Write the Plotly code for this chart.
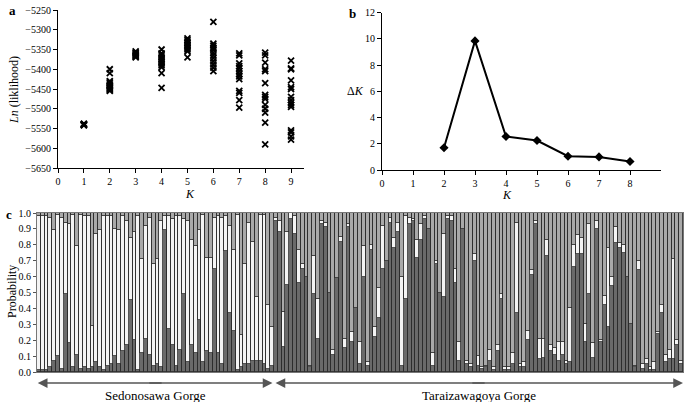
import plotly.graph_objects as go

# ---------------- Panel a: Ln likelihood per K ----------------
k_values = [1, 2, 3, 4, 5, 6, 7, 8, 9]
ln_k1 = [-5538, -5539, -5540, -5540, -5541, -5542]
ln_k2 = [-5400, -5410, -5430, -5433, -5436, -5440, -5442, -5445, -5448, -5450, -5452, -5455]
ln_k3 = [-5355, -5358, -5360, -5362, -5364, -5366, -5368, -5370]
ln_k4 = [-5350, -5360, -5365, -5370, -5374, -5378, -5382, -5386, -5390, -5395, -5410, -5447]
ln_k5 = [-5322, -5326, -5330, -5334, -5338, -5342, -5346, -5350, -5355, -5370]
ln_k6 = [-5280, -5335, -5340, -5345, -5350, -5358, -5365, -5372, -5380, -5388, -5396, -5405]
ln_k7 = [-5360, -5365, -5385, -5392, -5398, -5405, -5412, -5418, -5425, -5455, -5460, -5478, -5497]
ln_k8 = [-5358, -5365, -5383, -5400, -5405, -5435, -5465, -5470, -5475, -5490, -5500, -5510, -5535, -5590]
ln_k9 = [-5378, -5398, -5400, -5428, -5445, -5450, -5470, -5478, -5485, -5490, -5495, -5555, -5560, -5570, -5578]
ln_runs = [ln_k1, ln_k2, ln_k3, ln_k4, ln_k5, ln_k6, ln_k7, ln_k8, ln_k9]

# ---------------- Panel b: Delta K ----------------
dk_k = [2, 3, 4, 5, 6, 7, 8]
dk_vals = [1.7, 9.85, 2.55, 2.25, 1.05, 1.0, 0.65]

# ---------------- Panel c: membership probabilities ----------------
# cumulative tops: dark cluster (bottom), then white cluster top
sed_dark = [0.01, 0.01, 0.015, 0.03, 0.07, 0.10, 0.02, 0.49, 0.18, 0.03, 0.11, 0.02, 0.03, 0.02, 0.03,
            0.06, 0.03, 0.01, 0.04, 0.05, 0.10, 0.05, 0.13, 0.17, 0.45, 0.20, 0.01, 0.12, 0.21, 0.11,
            0.04, 0.05, 0.03, 0.89, 0.27, 0.17, 0.04, 0.14, 0.49, 0.06, 0.17, 0.12, 0.33, 0.06, 0.13,
            0.12, 0.65, 0.12, 0.05, 0.76, 0.37, 0.26, 0.01, 0.03, 0.05, 0.05, 0.07, 0.07, 0.07, 0.05,
            0.02, 0.04]
sed_white_top = [0.98, 0.98, 0.98, 0.97, 0.89, 0.99, 0.97, 0.94, 0.93, 0.99, 0.79, 0.99, 0.98, 0.98, 0.29,
                 0.87, 0.89, 0.98, 0.98, 0.98, 0.90, 0.89, 0.98, 0.95, 0.84, 0.88, 0.98, 0.71, 0.92, 0.97,
                 0.68, 0.71, 0.95, 0.98, 0.98, 0.96, 0.98, 0.98, 0.96, 0.95, 0.83, 0.79, 0.89, 0.99, 0.72,
                 0.72, 0.97, 0.98, 0.97, 0.98, 0.92, 0.77, 0.99, 0.23, 0.68, 0.94, 0.82, 0.47, 0.99, 0.99,
                 0.42, 0.28]
tar_dark = [0.95, 0.88, 0.16, 0.55, 0.96, 0.87, 0.56, 0.65, 0.60, 0.03, 0.49, 0.21, 0.93, 0.91, 0.50,
            0.11, 0.59, 0.82, 0.15, 0.91, 0.19, 0.40, 0.05, 0.60, 0.04, 0.77, 0.22, 0.34, 0.65, 0.70,
            0.94, 0.78, 0.88, 0.04, 0.46, 0.93, 0.95, 0.72, 0.83, 0.96, 0.90, 0.04, 0.68, 0.50, 0.47,
            0.96, 0.95, 0.56, 0.07, 0.90, 0.05, 0.03, 0.70, 0.04, 0.02, 0.03, 0.07, 0.01, 0.13, 0.46,
            0.01, 0.01, 0.05, 0.37, 0.03, 0.03, 0.20, 0.61, 0.93, 0.08, 0.09, 0.73, 0.13, 0.11, 0.07,
            0.11, 0.05, 0.06, 0.66, 0.74, 0.74, 0.19, 0.49, 0.09, 0.90, 0.19, 0.42, 0.28, 0.54, 0.81,
            0.78, 0.75, 0.60, 0.30, 0.03, 0.64, 0.02, 0.05, 0.01, 0.01, 0.24, 0.37, 0.06, 0.08, 0.08,
            0.17, 0.05]
tar_white_top = [0.97, 0.95, 0.38, 0.88, 1.00, 0.98, 0.77, 0.68, 0.60, 0.04, 0.73, 0.46, 0.95, 0.94, 0.50,
                 0.14, 0.59, 0.85, 0.21, 0.93, 0.25, 0.40, 0.19, 0.79, 0.06, 0.80, 0.28, 0.53, 0.92, 0.70,
                 0.97, 0.84, 0.94, 0.60, 0.98, 0.97, 0.96, 0.83, 0.93, 0.98, 0.90, 0.12, 0.70, 0.50, 0.87,
                 0.98, 0.98, 0.65, 0.19, 0.90, 0.07, 0.05, 0.74, 0.10, 0.03, 0.04, 0.14, 0.03, 0.17, 0.49,
                 0.03, 0.03, 0.12, 0.94, 0.05, 0.06, 0.26, 0.64, 0.95, 0.21, 0.21, 0.83, 0.17, 0.15, 0.19,
                 0.19, 0.07, 0.40, 0.80, 0.86, 0.84, 0.30, 0.93, 0.18, 0.95, 0.20, 0.48, 0.78, 0.60, 0.91,
                 0.81, 0.80, 0.60, 0.30, 0.04, 0.70, 0.05, 0.08, 0.03, 0.06, 0.25, 0.42, 0.11, 0.14, 0.71,
                 0.20, 0.07]
region_names = ["Sedonosawa Gorge", "Taraizawagoya Gorge"]

dark = sed_dark + tar_dark
white_top = sed_white_top + tar_white_top
white = [max(t - d, 0) for d, t in zip(dark, white_top)]
light = [max(1 - t, 0) for t in white_top]
n_sed = len(sed_dark)
n_all = len(dark)
idx = list(range(n_all))

W, H = 685, 402
def px(x):
    return x / W
def py(y):
    return 1 - y / H

FONT = "Liberation Serif, Times New Roman, DejaVu Serif, serif"

fig = go.Figure()

# panel a
for k, runs in zip(k_values, ln_runs):
    fig.add_trace(go.Scatter(x=[k] * len(runs), y=runs, mode="markers",
                             marker=dict(symbol="x-thin", size=6, color="black",
                                         line=dict(width=1.8, color="black")),
                             xaxis="x", yaxis="y", showlegend=False, cliponaxis=False))

# panel b
fig.add_trace(go.Scatter(x=dk_k, y=dk_vals, mode="lines+markers",
                         line=dict(color="black", width=2),
                         marker=dict(symbol="diamond", size=7, color="black"),
                         xaxis="x2", yaxis="y2", showlegend=False))

# panel c
bar_line = dict(color="#2a2a2a", width=0.8)
for vals, col in [(dark, "#6a6a6a"), (white, "#f4f4f4"), (light, "#a9a9a9")]:
    fig.add_trace(go.Bar(x=idx, y=vals, marker=dict(color=col, line=bar_line),
                         xaxis="x3", yaxis="y3", showlegend=False))

axis_common = dict(showgrid=False, zeroline=False, showline=True, linecolor="black",
                   linewidth=1, ticks="outside", ticklen=4, tickcolor="black",
                   tickfont=dict(family=FONT, size=10, color="black"))

fig.update_layout(
    width=W, height=H,
    margin=dict(l=0, r=0, t=0, b=0, autoexpand=False),
    paper_bgcolor="white", plot_bgcolor="white",
    barmode="stack", bargap=0,
    font=dict(family=FONT, color="black"),
    xaxis=dict(domain=[px(58), px(304)], range=[0, 9.5], tickvals=list(range(10)),
               anchor="y", **axis_common),
    yaxis=dict(domain=[py(168), py(10)], range=[-5650, -5250], dtick=50,
               anchor="x", **axis_common),
    xaxis2=dict(domain=[px(382), px(661)], range=[0, 9], tickvals=list(range(9)),
                anchor="y2", **axis_common),
    yaxis2=dict(domain=[py(170), py(12.7)], range=[0, 12], dtick=2,
                anchor="x2", **axis_common),
    xaxis3=dict(domain=[px(37), px(683)], range=[-0.5, n_all - 0.5], showgrid=False,
                zeroline=False, showline=True, mirror=True, linecolor="#777", linewidth=1,
                showticklabels=False, ticks="", anchor="y3"),
    yaxis3=dict(domain=[py(372), py(213)], range=[0, 1], dtick=0.1, tickformat=".1f",
                showgrid=False, zeroline=False, showline=True, mirror=True, linecolor="#777",
                linewidth=1, ticks="outside", ticklen=3, tickcolor="#555",
                tickfont=dict(family=FONT, size=10, color="black"), anchor="x3"),
)

ann = []
def txt(x, y, s, size=12, **kw):
    d = dict(x=x, y=y, xref="paper", yref="paper", text=s, showarrow=False,
             font=dict(family=FONT, size=size, color="black"), xanchor="center", yanchor="middle")
    d.update(kw)
    ann.append(d)

txt(px(12), py(10), "<b>a</b>", size=13)
txt(px(352), py(13), "<b>b</b>", size=13)
txt(px(9), py(214), "<b>c</b>", size=13)
txt(px(14), py(90), "<i>Ln</i> (liklihood)", size=12, textangle=-90)
txt(px(190), py(194), "<i>K</i>", size=12)
txt(px(355), py(91), "Δ<i>K</i>", size=12)
txt(px(507), py(195), "<i>K</i>", size=12)
txt(px(12), py(292), "Probability", size=12, textangle=-90)

# region arrows and labels (tails overlap so the shaft is continuous)
arrow_y = py(383)
mid_sed = (n_sed - 1) / 2
mid_tar = (n_sed + n_all - 1) / 2
for head, tail in [(-0.3, mid_sed + 2), (n_sed - 0.9, mid_sed - 2),
                   (n_sed - 0.1, mid_tar + 2), (n_all - 0.5, mid_tar - 2)]:
    ann.append(dict(x=head, y=arrow_y, xref="x3", yref="paper", ax=tail, ay=0,
                    axref="x3", ayref="pixel", showarrow=True, arrowhead=2,
                    arrowsize=1.3, arrowwidth=1.5, arrowcolor="#555", text=""))
for name, mid in zip(region_names, [mid_sed, mid_tar]):
    ann.append(dict(x=mid, y=py(395), xref="x3", yref="paper", text=name,
                    xanchor="center", yanchor="middle", showarrow=False,
                    font=dict(family=FONT, size=13, color="black")))

fig.update_layout(annotations=ann)
fig.write_html("out.html", config={"displayModeBar": False},
               post_script="document.body.style.margin='0';document.body.style.overflow='hidden';")
